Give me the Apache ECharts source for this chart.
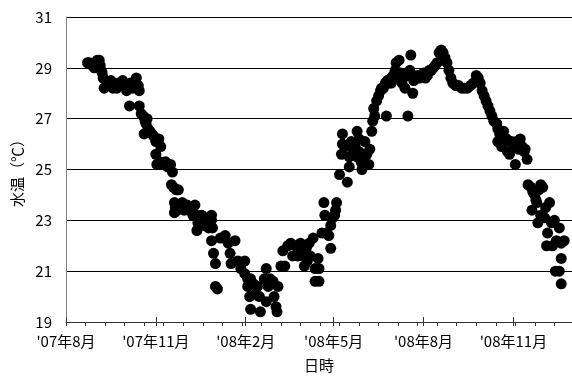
<!DOCTYPE html>
<html>
<head>
<meta charset="utf-8">
<script src="https://cdn.jsdelivr.net/npm/echarts@6/dist/echarts.min.js"></script>
<style>
  html, body { margin: 0; padding: 0; background: #fff; }
  #chart { width: 572px; height: 378px; }
</style>
</head>
<body>
<div id="chart"></div>
<script>
// Observation day, counted in days from 2007-08-01
const obsDay = [
  22, 24, 27, 29, 32, 34, 35, 36, 37, 38, 39, 42, 44, 46, 48, 50, 52, 54, 56, 58,
  60, 62, 64, 66, 68, 70, 72, 74, 75, 65, 75, 77, 79, 81, 83, 82, 84, 80, 86, 88,
  90, 92, 95, 97, 92, 93, 96, 99, 102, 104, 107, 109, 108, 110, 113, 115, 111, 112, 111, 114,
  117, 119, 121, 124, 126, 128, 130, 132, 134, 135, 137, 139, 141, 143, 145, 147, 149, 150, 134, 141,
  146, 149, 149, 151, 153, 153, 155, 158, 163, 166, 168, 169, 173, 176, 179, 183, 183, 186, 189, 186,
  188, 189, 192, 194, 196, 198, 199, 203, 205, 205, 207, 209, 212, 213, 215, 216, 217, 220, 224, 227,
  230, 232, 235, 239, 240, 242, 244, 246, 250, 253, 255, 255, 258, 259, 259, 222, 237, 247, 249, 262,
  264, 265, 267, 269, 271, 271, 273, 275, 277, 276, 280, 282, 283, 283, 286, 288, 290, 290, 292, 294,
  296, 298, 298, 300, 300, 302, 303, 304, 306, 308, 310, 311, 313, 314, 316, 315, 318, 320, 322, 323,
  325, 327, 328, 329, 331, 333, 335, 337, 338, 341, 340, 343, 345, 347, 349, 350, 352, 353, 355, 356,
  358, 360, 362, 366, 368, 370, 372, 374, 376, 378, 380, 382, 384, 386, 388, 390, 392, 394, 396, 399,
  402, 405, 408, 411, 414, 417, 420, 422, 424, 426, 428, 430, 432, 434, 436, 438, 441, 442, 442, 444,
  446, 448, 449, 451, 452, 454, 456, 458, 460, 461, 463, 465, 467, 469, 470, 472, 473, 476, 478, 480,
  482, 484, 486, 488, 477, 481, 483, 486, 490, 491, 493, 495, 497, 492, 498, 500, 502, 505, 507, 507,
  510, 501, 505, 507, 328, 333, 336, 344, 364
];

// Water temperature (°C) on each observation day
const waterTemp = [
  29.2, 29.2, 29.1, 29.0, 29.3, 29.3, 29.1, 28.9, 28.8, 28.6, 28.2, 28.4, 28.3, 28.5, 28.2, 28.3, 28.2, 28.4, 28.3, 28.5,
  28.3, 28.1, 28.2, 28.4, 28.2, 28.3, 28.6, 28.3, 28.1, 27.5, 27.5, 27.2, 27.1, 26.9, 27.0, 26.8, 26.6, 26.4, 26.5, 26.4,
  26.3, 26.1, 26.2, 25.9, 25.6, 25.2, 25.3, 25.2, 25.3, 25.1, 25.2, 24.9, 24.4, 24.3, 24.2, 24.2, 23.7, 23.5, 23.3, 23.4,
  23.6, 23.7, 23.4, 23.6, 23.4, 23.5, 23.2, 23.6, 23.2, 22.9, 23.0, 23.2, 22.9, 23.1, 22.8, 22.9, 23.2, 22.7, 22.6, 22.8,
  22.7, 23.0, 22.2, 21.7, 21.3, 20.4, 20.3, 22.3, 22.4, 22.1, 21.7, 21.3, 22.2, 21.4, 21.1, 21.4, 20.9, 20.7, 20.7, 20.4,
  20.0, 19.5, 20.5, 20.1, 20.4, 20.0, 19.4, 20.7, 21.1, 19.8, 20.4, 20.7, 20.6, 20.0, 19.6, 19.4, 20.4, 21.2, 21.2, 22.0,
  22.1, 21.6, 22.0, 21.9, 22.1, 21.6, 21.2, 21.9, 21.6, 22.3, 21.1, 20.6, 21.5, 21.1, 20.6, 21.8, 21.6, 21.4, 22.1, 22.5,
  23.7, 23.2, 22.5, 22.4, 22.8, 21.9, 23.1, 23.2, 23.7, 23.4, 24.8, 25.6, 26.0, 26.4, 25.9, 24.5, 25.1, 25.5, 26.1, 25.8,
  25.9, 26.5, 25.5, 25.7, 26.2, 25.3, 25.0, 25.5, 26.1, 25.6, 25.2, 25.8, 26.5, 26.9, 27.1, 27.4, 27.7, 27.9, 28.1, 28.2,
  28.2, 28.4, 27.1, 28.5, 28.4, 28.6, 28.7, 28.9, 29.2, 29.3, 28.7, 28.8, 28.6, 28.2, 28.7, 27.1, 28.9, 29.5, 28.0, 28.5,
  28.6, 28.7, 28.6, 28.8, 28.6, 28.7, 28.9, 28.9, 29.0, 29.1, 29.2, 29.6, 29.7, 29.6, 29.4, 29.2, 28.9, 28.6, 28.4, 28.3,
  28.3, 28.2, 28.2, 28.2, 28.3, 28.4, 28.7, 28.6, 28.4, 28.1, 27.9, 27.7, 27.5, 27.3, 27.1, 26.9, 26.8, 26.6, 26.1, 26.4,
  25.9, 26.5, 26.1, 26.2, 25.7, 25.6, 26.1, 25.9, 25.2, 26.1, 25.8, 26.2, 25.9, 25.7, 25.8, 25.4, 24.4, 24.3, 24.1, 24.0,
  23.7, 24.2, 24.4, 24.3, 23.4, 23.8, 22.9, 23.2, 23.1, 23.5, 22.5, 23.7, 22.9, 22.0, 22.0, 23.0, 22.2, 22.7, 22.1, 21.5,
  22.2, 21.0, 21.0, 20.5, 28.4, 28.4, 28.6, 28.4, 28.7
];

// Month boundaries used as labelled ticks (days from 2007-08-01)
const majorTickDays = [0, 92, 184, 274, 366, 458];
const majorTickLabels = ["'07年8月", "'07年11月", "'08年2月", "'08年5月", "'08年8月", "'08年11月"];

const yTicks = [19, 21, 23, 25, 27, 29, 31];

const points = obsDay.map((d, i) => [d, waterTemp[i]]);
const labelByDay = {};
majorTickDays.forEach((d, i) => { labelByDay[d] = majorTickLabels[i]; });

const FONT = '"Noto Sans CJK JP", "Noto Sans", sans-serif';
const X_MIN = 0, X_MAX = 518;

const chart = echarts.init(document.getElementById('chart'), null, { renderer: 'canvas' });
chart.setOption({
  animation: false,
  backgroundColor: '#ffffff',
  textStyle: { fontFamily: FONT },
  grid: { left: 66, right: -5, top: 17, bottom: 49, containLabel: false },
  xAxis: [
    {
      // minor ticks every 20 days
      type: 'value', position: 'bottom', min: X_MIN, max: X_MAX, interval: 20,
      axisLine: { show: true, lineStyle: { color: '#333', width: 1 } },
      axisTick: { show: true, inside: false, length: 4, lineStyle: { color: '#333' } },
      axisLabel: { show: false },
      splitLine: { show: false }
    },
    {
      // month ticks, inner half
      type: 'value', position: 'bottom', min: X_MIN, max: X_MAX,
      axisLine: { show: false },
      axisTick: { show: true, inside: true, length: 5, customValues: majorTickDays, lineStyle: { color: '#333' } },
      axisLabel: { show: false },
      splitLine: { show: false }
    },
    {
      // month ticks, outer half, with labels
      type: 'value', position: 'bottom', min: X_MIN, max: X_MAX,
      name: '日時', nameLocation: 'middle', nameGap: 36,
      nameTextStyle: { fontFamily: FONT, fontSize: 15, color: '#000', verticalAlign: 'top' },
      axisLine: { show: false },
      axisTick: { show: true, inside: false, length: 4, customValues: majorTickDays, lineStyle: { color: '#333' } },
      axisLabel: {
        show: true, customValues: majorTickDays, margin: 12,
        fontFamily: FONT, fontSize: 15, color: '#000',
        formatter: v => labelByDay[v] || ''
      },
      splitLine: { show: false }
    }
  ],
  yAxis: {
    type: 'value', min: 19, max: 31, interval: 2,
    name: '水温（℃）', nameLocation: 'middle', nameRotate: 90, nameGap: 40,
    nameTextStyle: { fontFamily: FONT, fontSize: 15, color: '#000' },
    axisLine: { show: true, lineStyle: { color: '#808080', width: 1 } },
    axisTick: { show: false },
    axisLabel: {
      margin: 14, fontFamily: FONT, fontSize: 15, color: '#000',
      customValues: yTicks, formatter: v => String(v)
    },
    splitLine: { show: true, lineStyle: { color: '#000', width: 1 } }
  },
  series: [{
    type: 'scatter',
    xAxisIndex: 0,
    data: points,
    symbol: 'circle',
    symbolSize: 11,
    itemStyle: { color: '#000', opacity: 1 },
    clip: false
  }]
});
</script>
</body>
</html>
